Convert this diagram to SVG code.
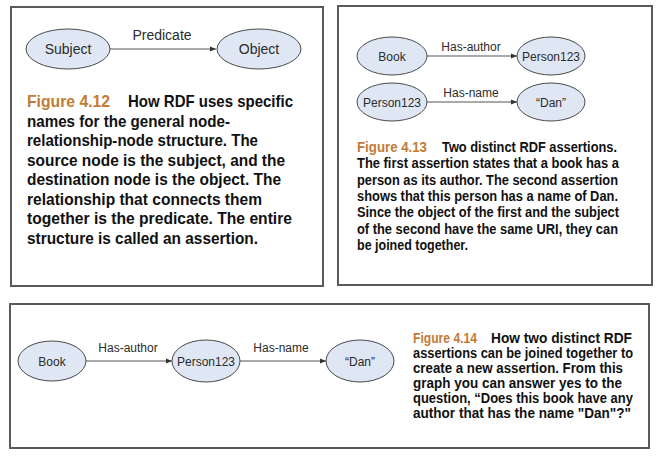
<svg xmlns="http://www.w3.org/2000/svg" width="661" height="457" viewBox="0 0 661 457">
<style>
.frame{fill:#fff;stroke:#5a5a5a;stroke-width:2}
.node ellipse{fill:#dfe7f4;stroke:#4a4a4a;stroke-width:1}
.lbl{font-family:"Liberation Sans",Arial,sans-serif;fill:#2b2b2b;text-anchor:middle}
.edge{stroke:#555;stroke-width:1.2;fill:none;marker-end:url(#ah)}
.cap{font-family:"Liberation Sans",Arial,sans-serif;font-weight:bold;fill:#111}
.fig{fill:#c27b36}
</style>
<defs>
<marker id="ah" viewBox="0 0 10 10" refX="10" refY="5" markerWidth="6" markerHeight="6" markerUnits="userSpaceOnUse" orient="auto">
<path d="M0,1 L10,5 L0,9 z" fill="#333"/>
</marker>
</defs>
<rect width="661" height="457" fill="#fff"/>
<rect class="frame" x="11" y="7" width="312" height="279"/>
<rect class="frame" x="338" y="6" width="314" height="279"/>
<rect class="frame" x="10" y="304" width="639" height="144"/>

<g id="connectors">
<line class="edge" x1="110" y1="49" x2="216" y2="49"/>
<line class="edge" x1="427" y1="56" x2="517" y2="56"/>
<line class="edge" x1="427" y1="102" x2="517" y2="102"/>
<line class="edge" x1="86" y1="361" x2="172" y2="361"/>
<line class="edge" x1="240" y1="361" x2="326" y2="361"/>
<text class="lbl" x="162" y="40" font-size="14">Predicate</text>
<text class="lbl" x="471" y="51" font-size="12">Has-author</text>
<text class="lbl" x="471" y="97" font-size="12">Has-name</text>
<text class="lbl" x="128" y="352" font-size="12">Has-author</text>
<text class="lbl" x="281" y="352" font-size="12">Has-name</text>
</g>

<g id="n-subject" class="node"><ellipse cx="68" cy="49" rx="42" ry="20"/><text class="lbl" x="68" y="54" font-size="14">Subject</text></g>
<g id="n-object" class="node"><ellipse cx="259" cy="49" rx="42" ry="20"/><text class="lbl" x="259" y="54" font-size="14">Object</text></g>

<g id="n-book1" class="node"><ellipse cx="392" cy="56" rx="35" ry="19"/><text class="lbl" x="392" y="60.5" font-size="12">Book</text></g>
<g id="n-person1" class="node"><ellipse cx="551" cy="56" rx="34" ry="19"/><text class="lbl" x="551" y="60.5" font-size="12">Person123</text></g>
<g id="n-person2" class="node"><ellipse cx="392" cy="102" rx="35" ry="19"/><text class="lbl" x="392" y="106.5" font-size="12">Person123</text></g>
<g id="n-dan1" class="node"><ellipse cx="551" cy="102" rx="34" ry="19"/><text class="lbl" x="551" y="106.5" font-size="12">“Dan”</text></g>

<g id="n-book2" class="node"><ellipse cx="52" cy="361" rx="34" ry="20"/><text class="lbl" x="52" y="365.5" font-size="12">Book</text></g>
<g id="n-person3" class="node"><ellipse cx="206" cy="361" rx="34" ry="21"/><text class="lbl" x="206" y="365.5" font-size="12">Person123</text></g>
<g id="n-dan2" class="node"><ellipse cx="360" cy="361" rx="34" ry="21"/><text class="lbl" x="360" y="365.5" font-size="12">“Dan”</text></g>

<g id="caption-412" class="cap" font-size="16.5">
<text x="27" y="107"><tspan class="fig" textLength="83" lengthAdjust="spacingAndGlyphs">Figure 4.12</tspan></text>
<text x="128" y="107" textLength="165" lengthAdjust="spacingAndGlyphs">How RDF uses specific</text>
<text x="27" y="126.5" textLength="203" lengthAdjust="spacingAndGlyphs">names for the general node-</text>
<text x="27" y="146" textLength="231" lengthAdjust="spacingAndGlyphs">relationship-node structure. The</text>
<text x="27" y="165.5" textLength="258" lengthAdjust="spacingAndGlyphs">source node is the subject, and the</text>
<text x="27" y="185" textLength="254" lengthAdjust="spacingAndGlyphs">destination node is the object. The</text>
<text x="27" y="204.5" textLength="235" lengthAdjust="spacingAndGlyphs">relationship that connects them</text>
<text x="27" y="224" textLength="265" lengthAdjust="spacingAndGlyphs">together is the predicate. The entire</text>
<text x="27" y="243.5" textLength="231" lengthAdjust="spacingAndGlyphs">structure is called an assertion.</text>
</g>

<g id="caption-413" class="cap" font-size="14">
<text x="357" y="152"><tspan class="fig" textLength="70" lengthAdjust="spacingAndGlyphs">Figure 4.13</tspan></text>
<text x="442" y="152" textLength="175" lengthAdjust="spacingAndGlyphs">Two distinct RDF assertions.</text>
<text x="357" y="168.3" textLength="262" lengthAdjust="spacingAndGlyphs">The first assertion states that a book has a</text>
<text x="357" y="184.6" textLength="261" lengthAdjust="spacingAndGlyphs">person as its author. The second assertion</text>
<text x="357" y="201" textLength="261" lengthAdjust="spacingAndGlyphs">shows that this person has a name of Dan.</text>
<text x="357" y="217.3" textLength="262" lengthAdjust="spacingAndGlyphs">Since the object of the first and the subject</text>
<text x="357" y="233.6" textLength="261" lengthAdjust="spacingAndGlyphs">of the second have the same URI, they can</text>
<text x="357" y="250" textLength="111" lengthAdjust="spacingAndGlyphs">be joined together.</text>
</g>

<g id="caption-414" class="cap" font-size="14.3">
<text x="413" y="342.5"><tspan class="fig" textLength="64" lengthAdjust="spacingAndGlyphs">Figure 4.14</tspan></text>
<text x="491" y="342.5" textLength="141" lengthAdjust="spacingAndGlyphs">How two distinct RDF</text>
<text x="413" y="357.7" textLength="220" lengthAdjust="spacingAndGlyphs">assertions can be joined together to</text>
<text x="413" y="372.8" textLength="210" lengthAdjust="spacingAndGlyphs">create a new assertion. From this</text>
<text x="413" y="388" textLength="209" lengthAdjust="spacingAndGlyphs">graph you can answer yes to the</text>
<text x="413" y="403" textLength="220" lengthAdjust="spacingAndGlyphs">question, “Does this book have any</text>
<text x="413" y="418.2" textLength="218" lengthAdjust="spacingAndGlyphs">author that has the name "Dan"?"</text>
</g>
</svg>
